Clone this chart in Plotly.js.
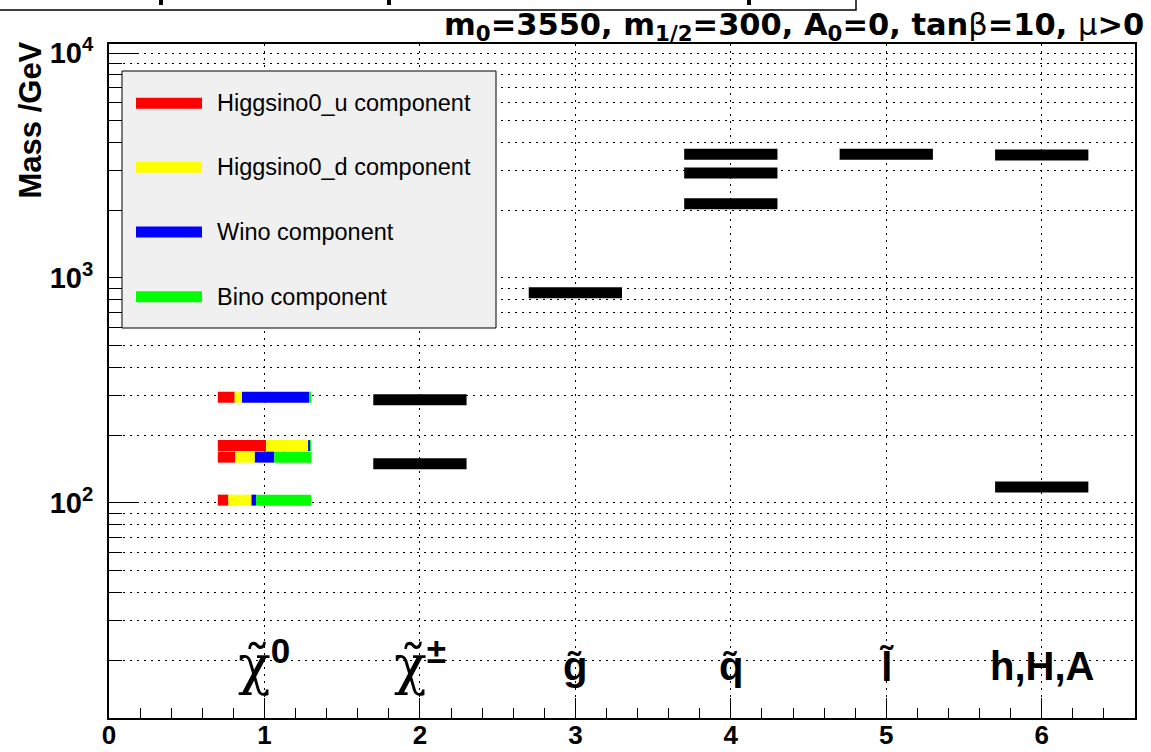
<!DOCTYPE html>
<html>
<head>
<meta charset="utf-8">
<script src="https://cdn.plot.ly/plotly-3.0.1.min.js"></script>
<style>html,body{margin:0;padding:0;background:#fff;}#chart{width:1151px;height:752px;}</style>
</head>
<body>
<div id="chart"></div>
<script>
// ---------------- data ----------------
const categoryX = [1, 2, 3, 4, 5, 6];
const categorySymbols = ["χ̃", "χ̃", "g̃", "q̃", "l̃", "h,H,A"];
const categorySups = ["0", "±", "", "", "", ""];
const neutralinoMass = [102.9, 159.8, 179.8, 295];
const charginoMass = [149.5, 287.7];
const gluinoMass = [859];
const squarkMass = [2136, 2925, 3545];
const sleptonMass = [3545];
const higgsMass = [117.8, 3520];
// neutralino composition (fractions along the bar)
const higgsinoUFrac = [0.113, 0.188, 0.518, 0.181];
const higgsinoDFrac = [0.248, 0.209, 0.450, 0.078];
const winoFrac = [0.050, 0.209, 0.021, 0.723];
const binoFrac = [0.589, 0.394, 0.011, 0.018];
const componentNames = ["Higgsino0_u component", "Higgsino0_d component", "Wino component", "Bino component"];
const componentColors = ["#ff0000", "#ffff00", "#0000ff", "#00ff00"];
const xTickVals = [0, 1, 2, 3, 4, 5, 6];
const yMajorVals = [100, 1000, 10000];
const yMajorText = ["10<sup>2</sup>", "10<sup>3</sup>", "10<sup>4</sup>"];
const yMinorVals = [20, 30, 40, 50, 60, 70, 80, 90, 200, 300, 400, 500, 600, 700, 800, 900, 2000, 3000, 4000, 5000, 6000, 7000, 8000, 9000];
const paramTitle = "m<sub>0</sub>=3550, m<sub>1/2</sub>=300, A<sub>0</sub>=0, tan<span style=\"font-weight:normal\">β</span>=10, <span style=\"font-weight:normal\">μ</span>&gt;0";

// ---------------- layout constants ----------------
const HALF = 0.3;
const BAR_W = 11;
const W = 1151, H = 752;
const M = {l: 109, r: 16, t: 44, b: 34};
const PW = W - M.l - M.r, PH = H - M.t - M.b;
const px2x = p => (p - M.l) / PW;
const py2y = p => (H - M.b - p) / PH;

// ---------------- traces ----------------
const black = {x: [], y: []};
const groups = [[2, charginoMass], [3, gluinoMass], [4, squarkMass], [5, sleptonMass], [6, higgsMass]];
groups.forEach(([cx, masses]) => {
  masses.forEach(m => { black.x.push(cx - HALF, cx + HALF, null); black.y.push(m, m, null); });
});
const traces = [{
  type: 'scatter', mode: 'lines', x: black.x, y: black.y,
  line: {color: '#000000', width: BAR_W}, showlegend: false, hoverinfo: 'skip'
}];
const fracs = [higgsinoUFrac, higgsinoDFrac, winoFrac, binoFrac];
const segs = fracs.map(() => ({x: [], y: []}));
neutralinoMass.forEach((m, j) => {
  let start = categoryX[0] - HALF;
  fracs.forEach((f, k) => {
    const len = f[j] * 2 * HALF;
    segs[k].x.push(start, start + len, null);
    segs[k].y.push(m, m, null);
    start += len;
  });
});
segs.forEach((s, k) => traces.push({
  type: 'scatter', mode: 'lines', x: s.x, y: s.y, name: componentNames[k],
  line: {color: componentColors[k], width: BAR_W}, showlegend: false, hoverinfo: 'skip'
}));

// ---------------- annotations & shapes ----------------
const annotations = [];
const shapes = [];
// title box (cut off at top)
shapes.push({type: 'rect', xref: 'paper', yref: 'paper', x0: px2x(-5), x1: px2x(856), y0: py2y(10), y1: py2y(-20),
  line: {color: '#000', width: 1.5}, fillcolor: 'rgba(0,0,0,0)', layer: 'above'});
[161, 389, 749].forEach(p => shapes.push({type: 'rect', xref: 'paper', yref: 'paper',
  x0: px2x(p - 2), x1: px2x(p + 2), y0: py2y(5), y1: py2y(-2), line: {width: 0}, fillcolor: '#000', layer: 'above'}));
// parameter title
annotations.push({xref: 'paper', yref: 'paper', x: px2x(1146), y: py2y(27), xanchor: 'right', yanchor: 'middle',
  text: paramTitle, showarrow: false, font: {family: 'DejaVu Sans', size: 30.5, color: '#000', weight: 'bold'}});
// y title
annotations.push({xref: 'paper', yref: 'paper', x: px2x(30), y: py2y(40), xanchor: 'center', yanchor: 'top',
  textangle: -90, text: 'Mass /GeV', showarrow: false, font: {family: 'Liberation Sans', size: 31, color: '#000', weight: 'bold'}});
// category labels
categorySymbols.forEach((s, i) => {
  const greek = categorySups[i] !== '';
  const text = greek
    ? '<span style="font-family:DejaVu Serif;font-weight:normal;font-size:54px">' + s + '</span><sup>' + categorySups[i] + '</sup>'
    : s;
  annotations.push({xref: 'x', yref: 'paper', x: categoryX[i], y: py2y(greek ? 664 : 666), xanchor: 'center', yanchor: 'middle',
    text: text, showarrow: false, font: {family: 'Liberation Sans', size: greek ? 50 : 40, color: '#000', weight: 'bold'}});
});
// legend box
const LG = {x0: 122, x1: 496, y0: 71, y1: 328, rows: [103.3, 167.3, 232, 296.7], s0: 136, s1: 202, tx: 215};
shapes.push({type: 'rect', xref: 'paper', yref: 'paper', x0: px2x(LG.x0), x1: px2x(LG.x1), y0: py2y(LG.y1), y1: py2y(LG.y0),
  line: {color: '#000', width: 1}, fillcolor: '#f0f0f0', layer: 'above'});
componentNames.forEach((n, k) => {
  shapes.push({type: 'line', xref: 'paper', yref: 'paper', x0: px2x(LG.s0), x1: px2x(LG.s1), y0: py2y(LG.rows[k]), y1: py2y(LG.rows[k]),
    line: {color: componentColors[k], width: BAR_W}, layer: 'above'});
  annotations.push({xref: 'paper', yref: 'paper', x: px2x(LG.tx), y: py2y(LG.rows[k]), xanchor: 'left', yanchor: 'middle',
    text: n, showarrow: false, font: {family: 'Liberation Sans', size: 23.5, color: '#000'}});
});

const gridDash = '2px,5px';
const layout = {
  width: W, height: H, margin: M, paper_bgcolor: '#ffffff', plot_bgcolor: '#ffffff', showlegend: false,
  xaxis: {
    range: [0, 6.6], tickmode: 'array', tickvals: xTickVals, ticks: 'inside', ticklen: 20, tickwidth: 1, tickcolor: '#000',
    showline: true, linecolor: '#000', linewidth: 2, mirror: true, zeroline: false,
    showgrid: true, gridcolor: '#000', gridwidth: 1, griddash: gridDash,
    minor: {dtick: 0.2, ticks: 'inside', ticklen: 10, tickwidth: 1, tickcolor: '#000', showgrid: false},
    tickfont: {family: 'Liberation Sans', size: 26, color: '#000', weight: 'bold'}, ticklabelstandoff: -7
  },
  yaxis: {
    type: 'log', range: [1.044, 4.04], tickmode: 'array', tickvals: yMajorVals, ticktext: yMajorText,
    ticks: 'inside', ticklen: 28, tickwidth: 1, tickcolor: '#000',
    showline: true, linecolor: '#000', linewidth: 2, mirror: true, zeroline: false,
    showgrid: true, gridcolor: '#000', gridwidth: 1, griddash: gridDash,
    minor: {tickmode: 'array', tickvals: yMinorVals, ticks: 'inside', ticklen: 13, tickwidth: 1, tickcolor: '#000',
      showgrid: true, gridcolor: '#000', gridwidth: 1, griddash: gridDash},
    tickfont: {family: 'Liberation Sans', size: 29, color: '#000', weight: 'bold'}, ticklabelstandoff: 8
  },
  annotations: annotations, shapes: shapes, hovermode: false
};
Plotly.newPlot('chart', traces, layout, {staticPlot: true, displayModeBar: false});
</script>
</body>
</html>
